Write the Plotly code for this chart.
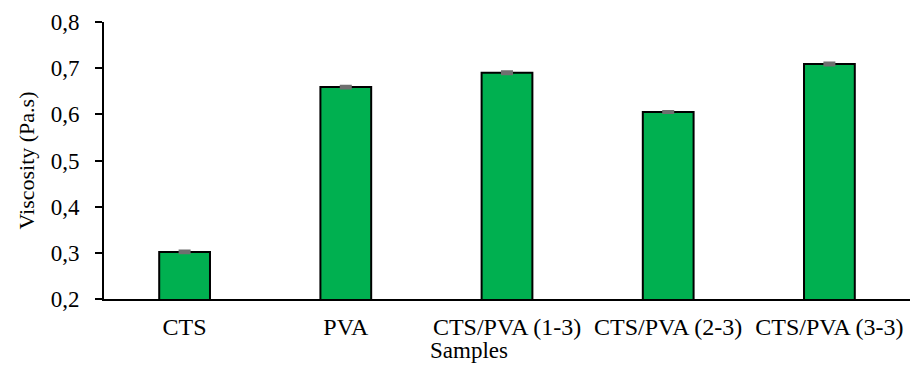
import plotly.graph_objects as go

# Viscosity of chitosan / PVA samples
samples = ["CTS", "PVA", "CTS/PVA (1-3)", "CTS/PVA (2-3)", "CTS/PVA (3-3)"]
viscosity = [0.302, 0.659, 0.690, 0.605, 0.709]
viscosity_err = [0.002, 0.002, 0.002, 0.001, 0.002]

FONT = "Liberation Serif"

fig = go.Figure(
    go.Bar(
        x=samples,
        y=viscosity,
        width=0.315,
        marker=dict(color="#00B050", line=dict(color="black", width=2)),
        error_y=dict(type="data", array=viscosity_err, color="#6f6f6f",
                     thickness=3, width=6),
    )
)

fig.update_layout(
    width=910,
    height=365,
    margin=dict(l=104, r=0, t=22, b=66),
    plot_bgcolor="white",
    paper_bgcolor="white",
    separators=", ",
    showlegend=False,
    font=dict(family=FONT, size=23, color="black"),
    bargap=0.5,
)

fig.update_xaxes(
    showline=True, linecolor="black", linewidth=2,
    ticks="", showgrid=False, ticklabelstandoff=5,
    tickfont=dict(size=24),
)

fig.update_yaxes(
    range=[0.2, 0.8], dtick=0.1, tick0=0.2, tickformat=".1f",
    showline=True, linecolor="black", linewidth=2,
    ticks="outside", ticklen=7, tickwidth=2, tickcolor="black",
    showgrid=False, zeroline=False, ticklabelstandoff=11,
    tickfont=dict(size=23),
    title=dict(text="Viscosity (Pa.s)", font=dict(size=22), standoff=10),
)

fig.add_annotation(
    text="Samples", xref="paper", yref="paper",
    x=0.453, y=-0.185, xanchor="center", yanchor="middle",
    showarrow=False, font=dict(size=23),
)

fig.write_html("out.html")
